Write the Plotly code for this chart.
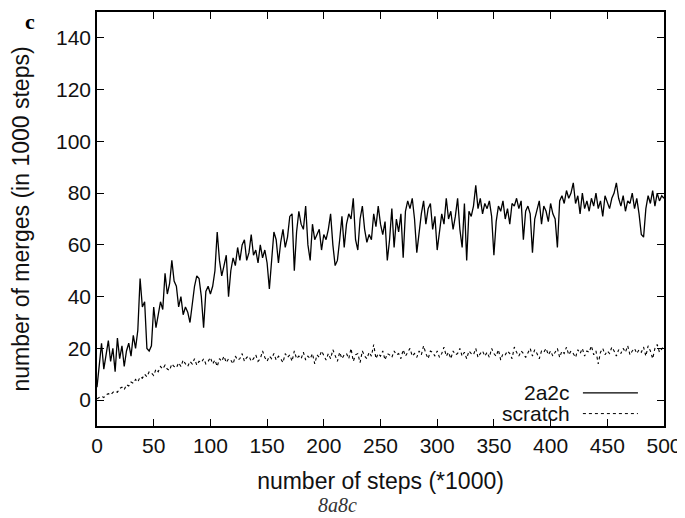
import plotly.graph_objects as go

steps = list(range(0, 501, 2))

merges_2a2c = [
    5, 14, 22, 12, 18, 23, 15, 20, 11, 24,
    16, 21, 13, 19, 22, 17, 25, 20, 27, 47,
    36, 38, 20, 19, 21, 36, 28, 34, 38, 35,
    49, 41, 45, 54, 46, 44, 36, 40, 33, 36,
    34, 30, 38, 44, 48, 47, 40, 28, 42, 44,
    41, 44, 50, 65, 54, 48, 52, 56, 40, 50,
    55, 52, 59, 54, 60, 62, 54, 57, 64, 56,
    58, 53, 60, 55, 58, 53, 43, 56, 65, 62,
    53, 61, 66, 59, 63, 71, 72, 50, 65, 73,
    68, 66, 75, 60, 54, 68, 62, 64, 66, 58,
    64, 62, 66, 72, 60, 52, 54, 62, 71, 59,
    68, 72, 70, 78, 62, 58, 70, 75, 66, 61,
    64, 62, 72, 67, 75, 68, 64, 69, 54, 62,
    74, 59, 70, 65, 72, 55, 73, 77, 74, 78,
    70, 57, 65, 72, 77, 68, 74, 76, 66, 71,
    58, 65, 72, 68, 78, 70, 73, 66, 71, 78,
    66, 59, 76, 54, 73, 71, 75, 83, 74, 78,
    72, 76, 74, 77, 71, 56, 69, 75, 73, 77,
    70, 74, 68, 76, 75, 78, 74, 77, 62, 73,
    75, 72, 57, 70, 74, 77, 68, 75, 73, 69,
    76, 72, 70, 59, 77, 79, 76, 81, 78, 80,
    84, 76, 79, 72, 80, 74, 77, 73, 78, 75,
    80, 74, 77, 71, 79, 76, 74, 78, 80, 84,
    78, 75, 79, 73, 77, 76, 80, 74, 78, 72,
    64, 63, 74, 79, 76, 81, 75, 80, 77, 79,
    78,
]

merges_scratch = [
    0.5, 1, 1.5, 1, 2, 2.5, 2, 3, 3.5, 3,
    4.5, 5, 4, 6, 5.5, 7, 6.5, 8, 7, 9,
    8.5, 10, 9, 11, 10.5, 9.5, 12, 11, 13, 12,
    13.5, 12, 11.5, 14, 13, 12.5, 14.5, 13, 15.5, 14,
    13, 15, 14, 16, 13.5, 15, 14.5, 16, 14, 15,
    16.5, 14, 15.5, 13, 16, 15, 17, 14.5, 16, 15.5,
    14, 17, 15.5, 16, 18, 15, 16.5, 17, 15, 16,
    17.5, 15, 16, 19, 16.5, 15, 17, 16, 18, 15.5,
    17, 16, 14.5, 18, 16.5, 17.5, 15, 19, 16, 17,
    16, 18.5, 15.5, 17, 16, 18, 14, 17.5, 16.5, 19,
    17, 15.5, 18, 16, 19.5, 17, 15, 18.5, 16, 17.5,
    18, 16, 20, 15, 17.5, 18, 14.5, 19, 17, 16,
    18.5, 17, 21.5, 16, 18, 17, 19, 15.5, 18, 17.5,
    16.5, 19, 17.5, 18, 16, 19.5, 17, 18.5, 20, 17,
    18, 16.5, 19, 17.5, 21, 18, 16, 19, 18.5, 17,
    19, 16.5, 18, 20.5, 17, 18.5, 16, 19, 17.5, 18,
    20, 17, 18.5, 16, 19, 18, 17.5, 20, 16.5, 18,
    19, 17, 18.5, 16.5, 20, 18, 17, 19.5, 15.5, 18,
    17.5, 19, 18, 16, 20.5, 18.5, 17, 19, 18, 16.5,
    18, 20, 17, 19.5, 18, 16, 19, 18.5, 20, 17.5,
    19, 17, 18.5, 20, 16.5, 19, 18, 20.5, 17.5, 19,
    18, 16.5, 19.5, 18, 20, 17, 19, 18.5, 21, 17.5,
    19, 14, 18.5, 20, 17.5, 19, 18, 20.5, 19, 17,
    19.5, 18, 20, 18.5, 21, 17.5, 19, 20, 18, 19.5,
    18.5, 20.5, 17, 21, 19, 16, 20, 21.5, 18.5, 20,
    21,
]

font = "Liberation Sans, Arial, sans-serif"

fig = go.Figure()
fig.add_trace(go.Scatter(x=steps, y=merges_2a2c, mode="lines", name="2a2c",
                         line=dict(color="black", width=1.3)))
fig.add_trace(go.Scatter(x=steps, y=merges_scratch, mode="lines", name="scratch",
                         line=dict(color="black", width=1.1, dash="dot")))

axis_common = dict(showline=True, linecolor="black", linewidth=1.5, mirror="allticks",
                   ticks="inside", ticklen=7, tickcolor="black", showgrid=False,
                   zeroline=False, automargin=False,
                   tickfont=dict(family=font, size=21, color="#111"))

fig.update_xaxes(range=[0, 500], tickvals=list(range(0, 501, 50)),
                 title=dict(text="number of steps (*1000)", standoff=17,
                            font=dict(family=font, size=23, color="#111")),
                 **axis_common)
fig.update_yaxes(range=[-10, 150], tickvals=list(range(0, 141, 20)),
                 title=dict(text="number of merges (in 1000 steps)", standoff=20,
                            font=dict(family=font, size=23, color="#111")),
                 **axis_common)

# gnuplot style key: text first, sample line after it
fig.add_annotation(xref="paper", yref="paper", x=0.838, y=0.080, text="2a2c",
                   showarrow=False, xanchor="right", yanchor="middle",
                   font=dict(family=font, size=21, color="#111"))
fig.add_annotation(xref="paper", yref="paper", x=0.838, y=0.030, text="scratch",
                   showarrow=False, xanchor="right", yanchor="middle",
                   font=dict(family=font, size=21, color="#111"))
fig.add_shape(type="line", xref="paper", yref="paper", x0=0.857, x1=0.954, y0=0.080, y1=0.080,
              line=dict(color="black", width=1.1))
fig.add_shape(type="line", xref="paper", yref="paper", x0=0.857, x1=0.954, y0=0.030, y1=0.030,
              line=dict(color="black", width=1, dash="dot"))

fig.add_annotation(xref="paper", yref="paper", x=-0.118, y=1.01, text="<b>c</b>",
                   showarrow=False, xanchor="center", yanchor="top", borderpad=0,
                   font=dict(family="Liberation Serif, serif", size=22, color="black"))
fig.add_annotation(xref="paper", yref="paper", x=0.425, y=-0.19, text="<i>8a8c</i>",
                   showarrow=False, xanchor="center", yanchor="middle",
                   font=dict(family="Liberation Serif, serif", size=20, color="#333"))

# page body adds an 8px offset, so the figure is 8px smaller than the window
fig.update_layout(width=677, height=510, showlegend=False,
                  margin=dict(l=89, r=21, t=4, b=92),
                  plot_bgcolor="white", paper_bgcolor="white")

fig.write_html("out.html")
